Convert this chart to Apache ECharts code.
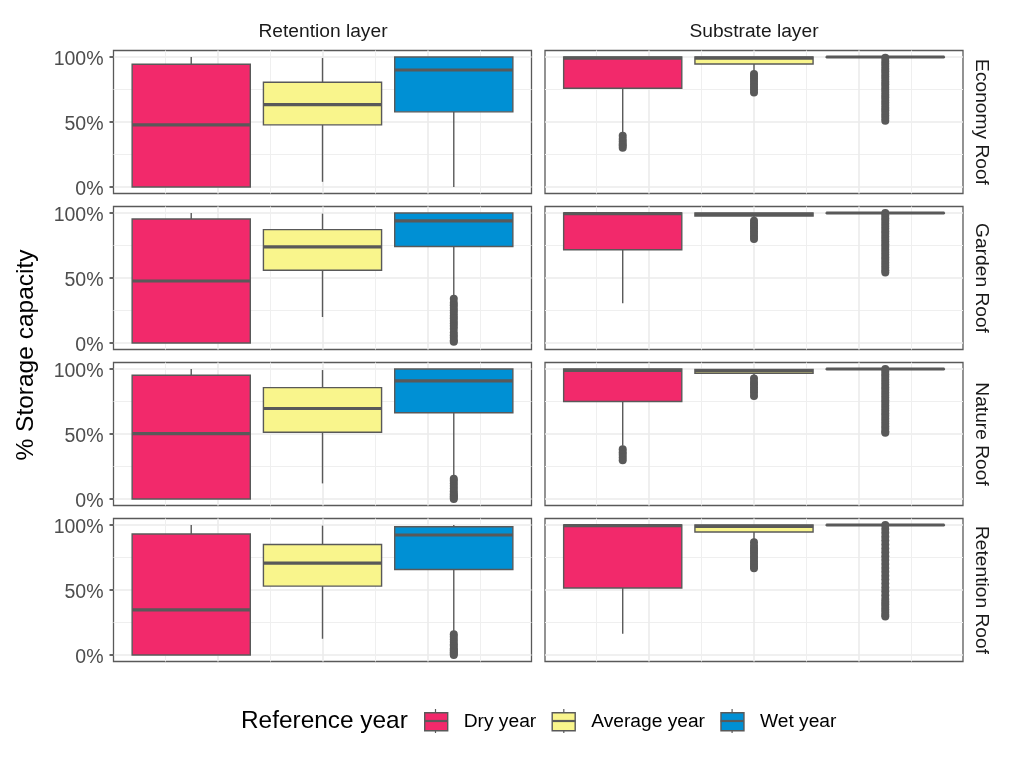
<!DOCTYPE html>
<html>
<head>
<meta charset="utf-8">
<style>
  html, body { margin: 0; background: #fff; }
  #main { width: 1013px; height: 760px; }
</style>
<script src="https://cdn.jsdelivr.net/npm/echarts@6/dist/echarts.min.js"></script>
</head>
<body>
<div id="main"></div>
<script>
const layers = ['Retention layer', 'Substrate layer']
const roofs = ['Economy Roof', 'Garden Roof', 'Nature Roof', 'Retention Roof']
const years = ['Dry year', 'Average year', 'Wet year']
const colors = ['#f2296b', '#f9f58c', '#0090d4']
const yearX = [-1.25, 0, 1.25]
const boxWidth = 1.125
const yMajor = [0, 50, 100]
const yMinor = [25, 75]
const xMajor = [-1, 0, 1]
const xMinor = [-1.5, -0.5, 0.5, 1.5]

/* [low, q1, median, q3, high] for dry, average, wet */
const retentionEconomy = [[0, 0, 47.8, 94.4, 100], [4, 47.8, 63.4, 80.6, 99.2], [0, 57.8, 90, 100, 100]]
const retentionGarden = [[0, 0, 47.7, 95.4, 100], [20, 56, 74, 87.2, 99.5], [36, 74.2, 94, 100, 100]]
const retentionNature = [[0, 0, 50.3, 95.2, 100], [12, 51.3, 69.6, 85.7, 99.2], [16, 66.3, 90.8, 100, 100]]
const retentionRetention = [[0, 0, 34.7, 93.1, 100], [12.5, 53, 70.7, 85, 99.5], [17, 65.8, 92.3, 98.7, 100]]
const substrateEconomy = [[41, 76, 99.2, 100, 100], [86.5, 94.6, 99.2, 100, 100], [99.5, 99.7, 100, 100, 100]]
const substrateGarden = [[30.6, 71.7, 99.5, 100, 100], [94.5, 97.7, 99, 100, 100], [99.5, 99.7, 100, 100, 100]]
const substrateNature = [[41, 75, 99, 100, 100], [93, 96.7, 98.8, 99.7, 100], [99.5, 99.7, 100, 100, 100]]
const substrateRetention = [[16.3, 51.5, 99.5, 100, 100], [86.5, 94.6, 99, 100, 100], [99.5, 99.7, 100, 100, 100]]

/* outliers for dry, average, wet */
const outRetentionEconomy = [[], [], []]
const outRetentionGarden = [[], [], [34, 31, 29, 27, 25, 23, 21, 19, 17, 15, 13, 11, 8, 6, 4, 2, 1]]
const outRetentionNature = [[], [], [15.5, 14, 12, 10, 8, 6, 4, 3, 2, 1, 0]]
const outRetentionRetention = [[], [], [16, 14, 12, 10, 8, 7, 5, 4, 3, 2, 1, 0]]
const outSubstrateEconomy = [
  [39.4, 37, 35, 33, 32, 30.2],
  [87, 85, 83, 81, 79, 77, 75, 72.6],
  [99.5, 97, 95, 93, 91, 89, 87, 85, 83, 81, 79, 77, 75, 73, 71, 69, 67, 65, 63, 61, 59, 57, 55, 53, 51]
]
const outSubstrateGarden = [
  [],
  [94, 92, 90, 88, 86, 84, 82, 80],
  [100, 98, 96, 94, 92, 90, 88, 86, 84, 82, 80, 78, 76, 74, 72, 70, 68, 66, 64, 62, 60, 58, 56, 54.3]
]
const outSubstrateNature = [
  [38.3, 36, 34, 32, 29.8],
  [92.6, 90, 88, 86, 84, 82, 79.3],
  [100, 98, 96, 94, 92, 90, 88, 86, 84, 82, 80, 78, 76, 74, 72, 70, 68, 66, 64, 62, 60, 58, 56, 54, 52, 51]
]
const outSubstrateRetention = [
  [],
  [86.7, 84, 82, 80, 78, 76, 74, 72, 70, 68, 66.8],
  [100, 97, 94, 91, 88, 85, 82, 79, 76, 73, 70, 67, 64, 61, 58, 55, 52, 49, 46, 43, 41, 39, 37, 35, 33, 31, 29.6]
]

const boxStats = [
  [retentionEconomy, retentionGarden, retentionNature, retentionRetention],
  [substrateEconomy, substrateGarden, substrateNature, substrateRetention]
]
const outliers = [
  [outRetentionEconomy, outRetentionGarden, outRetentionNature, outRetentionRetention],
  [outSubstrateEconomy, outSubstrateGarden, outSubstrateNature, outSubstrateRetention]
]

const ink = '#595959'
const font = '"Liberation Sans", Arial, sans-serif'
const panelLeft = [113.5, 545]
const panelTop = [50.5, 206.5, 362.5, 518.5]
const panelWidth = 418
const panelHeight = 143

const renderBox = (params, api) => {
  const x = api.value(0)
  const low = api.coord([x, api.value(1)])
  const q1 = api.coord([x, api.value(2)])
  const med = api.coord([x, api.value(3)])
  const q3 = api.coord([x, api.value(4)])
  const high = api.coord([x, api.value(5)])
  const half = api.size([boxWidth, 0])[0] / 2
  const thin = { stroke: ink, lineWidth: 1.4 }
  return {
    type: 'group',
    children: [
      { type: 'line', shape: { x1: low[0], y1: low[1], x2: q1[0], y2: q1[1] }, style: thin },
      { type: 'line', shape: { x1: q3[0], y1: q3[1], x2: high[0], y2: high[1] }, style: thin },
      {
        type: 'rect',
        shape: { x: q1[0] - half, y: q3[1], width: half * 2, height: q1[1] - q3[1] },
        style: { fill: api.visual('color'), stroke: ink, lineWidth: 1.4 }
      },
      { type: 'line', shape: { x1: med[0] - half, y1: med[1], x2: med[0] + half, y2: med[1] }, style: { stroke: ink, lineWidth: 3.2 } }
    ]
  }
}

let grids = [], xAxes = [], yAxes = [], series = []
layers.forEach((layer, c) => {
  roofs.forEach((roof, r) => {
    const g = grids.length
    grids.push({
      left: panelLeft[c], top: panelTop[r], width: panelWidth, height: panelHeight,
      show: true, backgroundColor: 'transparent', borderColor: ink, borderWidth: 1.3
    })
    const xBase = { type: 'value', gridIndex: g, position: 'bottom', min: -1.99, max: 1.99, axisLabel: { show: false }, axisLine: { show: false, onZero: false } }
    const yBase = { type: 'value', gridIndex: g, position: 'left', min: -5, max: 105, axisLine: { show: false, onZero: false } }
    xAxes.push(
      { ...xBase, axisTick: { show: false, customValues: xMinor }, splitLine: { show: true, lineStyle: { color: '#efefef', width: 1 } } },
      { ...xBase, axisTick: { show: false, customValues: xMajor }, splitLine: { show: true, lineStyle: { color: '#ebebeb', width: 1.6 } } }
    )
    yAxes.push(
      { ...yBase, axisLabel: { show: false }, axisTick: { show: false, customValues: yMinor }, splitLine: { show: true, lineStyle: { color: '#efefef', width: 1 } } },
      {
        ...yBase,
        axisLabel: {
          show: c === 0, customValues: yMajor, formatter: v => '{v|' + v + '%}', margin: 10,
          rich: { v: { color: '#4d4d4d', fontFamily: font, fontSize: 19.5, padding: [5, 0, 0, 0] } }
        },
        axisTick: { show: c === 0, customValues: yMajor, inside: false, length: 4, lineStyle: { color: '#333333', width: 1.5 } },
        splitLine: { show: true, lineStyle: { color: '#ebebeb', width: 1.6 } }
      }
    )
    years.forEach((year, k) => {
      series.push({
        type: 'custom', name: year, xAxisIndex: g * 2, yAxisIndex: g * 2,
        itemStyle: { color: colors[k], borderColor: ink },
        renderItem: renderBox, encode: { x: 0, y: [1, 2, 3, 4, 5] },
        data: [[yearX[k], ...boxStats[c][r][k]]], z: 3 + k, silent: true
      })
      series.push({
        type: 'scatter', name: year + ' outliers', xAxisIndex: g * 2, yAxisIndex: g * 2,
        symbol: 'circle', symbolSize: 8, itemStyle: { color: ink, opacity: 1 },
        data: outliers[c][r][k].map(v => [yearX[k], v]), z: 3 + k, silent: true
      })
    })
  })
})

const text = (x, y, str, size, extra) => ({
  type: 'text', x, y, rotation: (extra && extra.rotation) || 0, silent: true,
  style: { text: str, fill: (extra && extra.fill) || '#1a1a1a', font: size + 'px ' + font, align: (extra && extra.align) || 'center', verticalAlign: 'middle' }
})

let graphics = [
  text(323, 32, layers[0], 19.2),
  text(754, 32, layers[1], 19.2),
  text(26, 355, '% Storage capacity', 24.5, { rotation: Math.PI / 2, fill: '#000' }),
  text(241, 721, 'Reference year', 24.4, { align: 'left', fill: '#000' })
]
roofs.forEach((roof, r) => {
  graphics.push(text(981, panelTop[r] + panelHeight / 2, roof, 19.2, { rotation: -Math.PI / 2 }))
})

/* median and whisker stubs over the legend keys */
const keyX = [424, 552.3, 720.6]
keyX.forEach(x => {
  const line = (x1, y1, x2, y2, w) => ({
    type: 'line', z: 100, silent: true,
    shape: { x1, y1, x2, y2 }, style: { stroke: ink, lineWidth: w }
  })
  graphics.push(line(x, 721, x + 23, 721, 2.2))
  graphics.push(line(x + 11.5, 709, x + 11.5, 712, 1.2))
  graphics.push(line(x + 11.5, 730, x + 11.5, 733, 1.2))
})

const chart = echarts.init(document.getElementById('main'), null, { renderer: 'canvas' })
chart.setOption({
  backgroundColor: '#fff',
  animation: false,
  grid: grids,
  xAxis: xAxes,
  yAxis: yAxes,
  legend: {
    data: years, left: 424, top: 712, itemWidth: 23, itemHeight: 18, itemGap: 15.3, selectedMode: false,
    icon: 'rect', padding: 0,
    itemStyle: { borderColor: ink, borderWidth: 1.4 },
    textStyle: { color: '#000', fontFamily: font, fontSize: 19.2, padding: [0, 0, 0, 11] }
  },
  series,
  graphic: graphics
})
</script>
</body>
</html>
